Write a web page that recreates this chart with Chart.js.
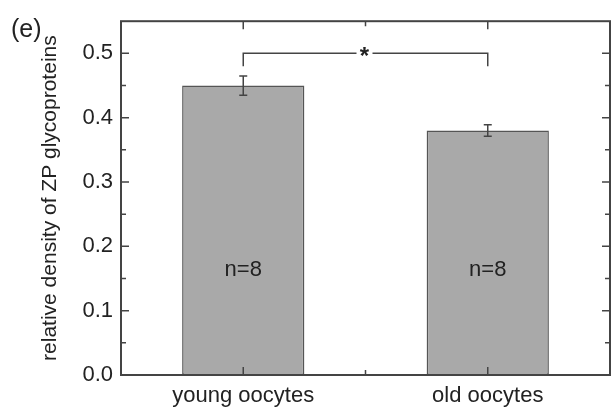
<!DOCTYPE html>
<html>
<head>
<meta charset="utf-8">
<script src="https://cdn.jsdelivr.net/npm/chart.js@4.4.0/dist/chart.umd.min.js"></script>
<style>
  html, body { margin: 0; padding: 0; background: #fff; }
  #wrap { width: 611px; height: 407px; }
</style>
</head>
<body>
<div id="wrap"><canvas id="zpChart" width="611" height="407"></canvas></div>
<script>
// data
const categories = ['young oocytes', 'old oocytes'];
const meanDensity = [0.45, 0.38];
const semDensity = [0.015, 0.009];
const sampleSizes = [8, 8];
const yTicks = [0, 0.1, 0.2, 0.3, 0.4, 0.5];
const yMinorTicks = [0.05, 0.15, 0.25, 0.35, 0.45];

const FONT = '"Liberation Sans", Arial, Helvetica, sans-serif';
const INK = '#222';
const FRAME = '#444';

// frame, mirrored inward ticks, error bars, significance bracket, n labels
const decorPlugin = {
    id: 'decor',
    afterDatasetsDraw(chart) {
        const c = chart.ctx;
        const area = chart.chartArea;
        const x = chart.scales.x;
        const y = chart.scales.y;
        const meta = chart.getDatasetMeta(0);

        c.save();
        c.strokeStyle = FRAME;
        c.lineWidth = 1.5;

        // error bars
        meta.data.forEach((bar, i) => {
            const top = y.getPixelForValue(meanDensity[i] + semDensity[i]);
            const bot = y.getPixelForValue(meanDensity[i] - semDensity[i]);
            c.beginPath();
            c.moveTo(bar.x, top); c.lineTo(bar.x, bot);
            c.moveTo(bar.x - 4, top); c.lineTo(bar.x + 4, top);
            c.moveTo(bar.x - 4, bot); c.lineTo(bar.x + 4, bot);
            c.stroke();
        });

        // significance bracket
        const x0 = meta.data[0].x, x1 = meta.data[1].x;
        const yb = y.getPixelForValue(0.50);
        const yd = y.getPixelForValue(0.48);
        const mid = (x0 + x1) / 2 - 1;
        c.beginPath();
        c.moveTo(x0, yd); c.lineTo(x0, yb); c.lineTo(mid - 8, yb);
        c.moveTo(mid + 8, yb); c.lineTo(x1, yb); c.lineTo(x1, yd);
        c.stroke();
        c.fillStyle = INK;
        c.font = 'bold 24px ' + FONT;
        c.textAlign = 'center';
        c.textBaseline = 'alphabetic';
        c.fillText('*', mid, yb + 11);

        // n labels
        c.font = '22px ' + FONT;
        c.textBaseline = 'middle';
        meta.data.forEach((bar, i) => {
            c.fillText('n=' + sampleSizes[i], bar.x, y.getPixelForValue(0.164));
        });

        // panel letter
        c.font = '25px ' + FONT;
        c.textAlign = 'left';
        c.fillText('(e)', 11, 30);

        // frame
        c.lineWidth = 2;
        c.strokeRect(area.left, area.top, area.right - area.left, area.bottom - area.top);

        // y ticks (left and right, inward)
        c.lineWidth = 1.5;
        c.beginPath();
        yTicks.forEach(v => {
            const p = y.getPixelForValue(v);
            c.moveTo(area.left, p); c.lineTo(area.left + 8, p);
            c.moveTo(area.right, p); c.lineTo(area.right - 8, p);
        });
        yMinorTicks.forEach(v => {
            const p = y.getPixelForValue(v);
            c.moveTo(area.left, p); c.lineTo(area.left + 5, p);
            c.moveTo(area.right, p); c.lineTo(area.right - 5, p);
        });
        // x ticks (bottom and top, inward)
        categories.forEach((_, i) => {
            const p = x.getPixelForValue(i);
            c.moveTo(p, area.bottom); c.lineTo(p, area.bottom - 8);
            c.moveTo(p, area.top); c.lineTo(p, area.top + 8);
        });
        const pm = (x0 + x1) / 2;
        c.moveTo(pm, area.bottom); c.lineTo(pm, area.bottom - 5);
        c.moveTo(pm, area.top); c.lineTo(pm, area.top + 5);
        c.stroke();
        c.restore();
    }
};

const ctx = document.getElementById('zpChart').getContext('2d');
const zpChart = new Chart(ctx, {
    type: 'bar',
    data: {
        labels: categories,
        datasets: [{
            data: meanDensity,
            backgroundColor: '#a9a9a9',
            borderColor: '#555',
            borderWidth: 1.5,
            borderSkipped: false,
            categoryPercentage: 1,
            barPercentage: 0.5
        }]
    },
    options: {
        responsive: false,
        animation: false,
        layout: { padding: { top: 15, right: 1, left: 0, bottom: 0 } },
        plugins: { legend: { display: false }, tooltip: { enabled: false } },
        scales: {
            x: {
                grid: { display: false, drawTicks: false },
                border: { display: false },
                ticks: { color: INK, font: { family: FONT, size: 22 }, padding: 8 },
                afterFit(scale) { scale.height = 32; }
            },
            y: {
                min: 0,
                max: 0.55,
                grid: { display: false, drawTicks: false },
                border: { display: false },
                afterBuildTicks(scale) { scale.ticks = yTicks.map(v => ({ value: v })); },
                ticks: {
                    color: INK,
                    font: { family: FONT, size: 22 },
                    padding: 8,
                    callback: v => v.toFixed(1)
                },
                title: {
                    display: true,
                    text: 'relative density of ZP glycoproteins',
                    color: INK,
                    font: { family: FONT, size: 21 },
                    padding: { top: 38, bottom: 0 }
                },
                afterFit(scale) { scale.width = 121; }
            }
        }
    },
    plugins: [decorPlugin]
});
</script>
</body>
</html>
